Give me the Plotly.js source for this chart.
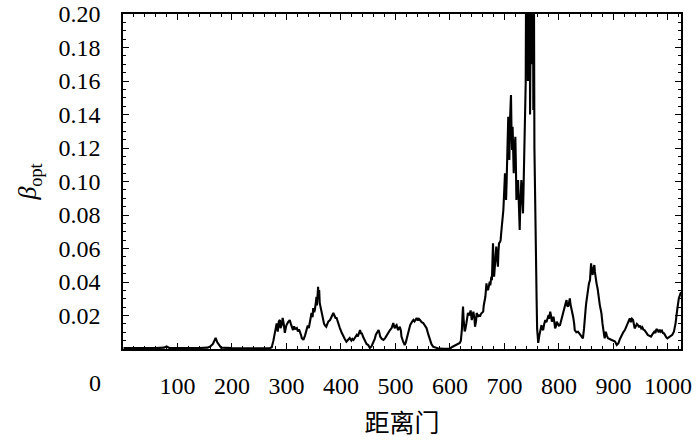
<!DOCTYPE html>
<html>
<head>
<meta charset="utf-8">
<script src="https://cdn.plot.ly/plotly-3.0.1.min.js"></script>
<style>html,body{margin:0;padding:0;background:#fff;}</style>
</head>
<body>
<div id="chart" style="width:700px;height:440px;"></div>
<script>
// Range gate index (距离门) and beta_opt values
const gateIndex = [
1,20,40,60,75,80,85,100,120,140,155,160,165,168,170,173,176,180,200,220,240,260,270,
273,276,279,281,282,284,286,288,289,291,293,295,297,299,300,303,306,308,310,312,314,316,319,321,323,325,327,328,331,334,337,339,341,343,345,346,348,349,351,352,354,355,356,357,358,359,360,361,363,364,366,367,369,371,373,375,377,380,382,384,386,388,390,392,394,396,398,
401,404,407,410,413,416,419,421,423,426,429,431,433,435,437,438,441,444,447,450,453,456,459,462,464,466,468,469,471,472,475,478,481,484,487,490,493,496,498,499,
501,502,504,505,507,508,510,511,514,517,519,520,523,525,527,530,533,535,537,539,541,543,545,548,551,554,557,560,563,566,569,572,576,580,590,600,
604,608,612,615,618,620,621,622,623,624,625,627,628,630,631,633,635,637,638,640,641,643,645,646,648,649,651,652,654,655,657,658,660,661,662,664,665,667,668,670,671,673,674,676,677,679,680,681,683,685,686,688,689,690,692,693,694,696,698,699,
701,702,703,704,705,706,707,708,709,710,711,712,713,714,715,716,717,718,720,721,722,723,725,726,727,728,729,731,732,734,735,736,737,738,739,740,741,742,743,744,745,746,747,748,749,750,751,752,753,754,755,756,757,758,759,760,761,762,764,766,768,769,771,773,775,777,779,781,782,784,786,787,789,790,792,793,795,796,798,
800,802,804,805,807,808,810,812,814,815,817,818,820,821,823,825,826,828,829,832,835,838,841,844,846,847,849,850,852,853,855,857,858,859,860,862,863,865,866,867,869,871,872,874,875,877,878,880,881,883,884,886,888,890,893,897,
900,903,906,909,912,915,918,921,924,927,930,932,934,936,938,939,941,943,945,947,949,951,953,955,957,959,961,963,966,969,972,975,977,979,981,983,985,987,989,991,993,995,997,999,
1002,1005,1008,1011,1014,1017,1020,1024
];
const betaOpt = [
0.0005,0.0004,0.0006,0.0005,0.0008,0.0015,0.0006,0.0005,0.0004,0.0006,0.0008,0.0015,0.003,0.0055,0.0066,0.004,0.0025,0.0008,0.0005,0.0004,0.0005,0.0004,0.0006,
0.001,0.005,0.0096,0.0135,0.0153,0.0104,0.0165,0.0173,0.0125,0.0140,0.0185,0.0150,0.0096,0.0130,0.0143,0.0160,0.0173,0.0150,0.0125,0.0113,0.0135,0.0120,0.0125,0.0105,0.0118,0.0103,0.0080,0.0066,0.0054,0.0080,0.0113,0.0140,0.0125,0.0173,0.0200,0.0215,0.0190,0.0245,0.0220,0.0233,0.0280,0.0312,0.0260,0.0350,0.0372,0.0300,0.0352,0.0275,0.0240,0.0215,0.0190,0.0173,0.0150,0.0140,0.0133,0.0150,0.0165,0.0173,0.0190,0.0200,0.0215,0.0200,0.0185,0.0185,0.0160,0.0140,0.0125,
0.0100,0.0074,0.0060,0.0044,0.0055,0.0066,0.0050,0.0060,0.0054,0.0070,0.0084,0.0075,0.0100,0.0113,0.0090,0.0096,0.0070,0.0044,0.0030,0.0024,0.0006,0.0015,0.0036,0.0060,0.0085,0.0096,0.0105,0.0113,0.0090,0.0074,0.0060,0.0054,0.0065,0.0084,0.0095,0.0113,0.0125,0.0155,0.0130,0.0125,
0.0140,0.0143,0.0120,0.0113,0.0125,0.0133,0.0110,0.0074,0.0045,0.0024,0.0040,0.0054,0.0090,0.0120,0.0143,0.0160,0.0173,0.0165,0.0180,0.0185,0.0170,0.0180,0.0173,0.0160,0.0155,0.0140,0.0125,0.0090,0.0054,0.0030,0.0014,0.0010,0.0006,0.0002,0.0001,0.0002,
0.0012,0.0020,0.0024,0.0030,0.0036,0.0050,0.0074,0.0120,0.0200,0.0253,0.0180,0.0105,0.0113,0.0150,0.0190,0.0215,0.0200,0.0223,0.0230,0.0173,0.0200,0.0223,0.0180,0.0133,0.0170,0.0215,0.0200,0.0193,0.0205,0.0193,0.0210,0.0213,0.0220,0.0223,0.0260,0.0300,0.0312,0.0392,0.0360,0.0352,0.0380,0.0402,0.0380,0.0432,0.0410,0.0631,0.0500,0.0432,0.0520,0.0611,0.0560,0.0491,0.0580,0.0631,0.0640,0.0651,0.0691,0.0750,0.0830,0.0900,
0.1049,0.0950,0.0890,0.1000,0.1148,0.1250,0.1387,0.1200,0.1128,0.1347,0.1400,0.1516,0.1300,0.1188,0.1327,0.1200,0.1049,0.1150,0.1267,0.1100,0.0890,0.0950,0.1009,0.0900,0.0800,0.0710,0.0850,0.1009,0.0950,0.0810,0.0950,0.1150,0.1327,0.1450,0.1586,0.2400,0.1900,0.2800,0.1600,0.2600,0.1750,0.2900,0.1400,0.2500,0.2200,0.3000,0.1700,0.2700,0.1427,0.2300,0.1200,0.0890,0.0700,0.0600,0.0300,0.0120,0.0060,0.0036,0.0080,0.0120,0.0143,0.0120,0.0113,0.0150,0.0173,0.0160,0.0190,0.0203,0.0180,0.0223,0.0190,0.0163,0.0180,0.0193,0.0150,0.0123,0.0140,0.0163,0.0150,
0.0140,0.0143,0.0170,0.0193,0.0210,0.0233,0.0250,0.0270,0.0292,0.0260,0.0253,0.0280,0.0302,0.0270,0.0243,0.0210,0.0193,0.0150,0.0113,0.0100,0.0103,0.0090,0.0074,0.0064,0.0120,0.0193,0.0240,0.0273,0.0320,0.0372,0.0390,0.0412,0.0470,0.0511,0.0470,0.0442,0.0480,0.0501,0.0460,0.0432,0.0392,0.0360,0.0332,0.0290,0.0262,0.0230,0.0213,0.0150,0.0113,0.0080,0.0064,0.0103,0.0080,0.0064,0.0060,0.0054,
0.0050,0.0044,0.0024,0.0034,0.0060,0.0084,0.0100,0.0113,0.0140,0.0163,0.0183,0.0160,0.0180,0.0173,0.0140,0.0123,0.0135,0.0150,0.0143,0.0130,0.0140,0.0123,0.0130,0.0115,0.0113,0.0100,0.0095,0.0084,0.0080,0.0074,0.0090,0.0103,0.0095,0.0120,0.0113,0.0100,0.0115,0.0103,0.0110,0.0095,0.0093,0.0080,0.0070,0.0064,
0.0070,0.0074,0.0085,0.0103,0.0153,0.0233,0.0302,0.0340
];
const xTickVals = [0,100,200,300,400,500,600,700,800,900,1000];
const xTickText = ['','100','200','300','400','500','600','700','800','900','1000'];
const yTickVals = [0,0.02,0.04,0.06,0.08,0.10,0.12,0.14,0.16,0.18,0.20];
const yTickText = ['','0.02','0.04','0.06','0.08','0.10','0.12','0.14','0.16','0.18','0.20'];
const originLabel = '0';
const xRange = [0, 1024];
const yRange = [0, 0.2];
const xMinorStep = 20;
const yMinorStep = 0.005;

const serif = 'Liberation Serif, DejaVu Serif, serif';

const dataTrace = {
  x: gateIndex, y: betaOpt, type: 'scatter', mode: 'lines',
  line: {color: '#000', width: 2.1},
  hoverinfo: 'skip'
};

const layout = {
  width: 700, height: 440,
  margin: {l: 123, r: 19, t: 14, b: 91},
  paper_bgcolor: '#fff', plot_bgcolor: '#fff',
  showlegend: false,
  font: {family: serif, size: 24, color: '#000'},
  xaxis: {
    range: xRange, tickmode: 'array', tickvals: xTickVals, ticktext: xTickText,
    ticks: 'inside', ticklen: 6, tickwidth: 1.3, tickcolor: '#000',
    showline: true, linewidth: 1.6, linecolor: '#000', mirror: 'ticks',
    showgrid: false, zeroline: false, automargin: false,
    ticklabelstandoff: 14,
    minor: {dtick: xMinorStep, ticks: 'inside', ticklen: 3, tickwidth: 1.1, tickcolor: '#000', showgrid: false},
    tickfont: {family: serif, size: 24, color: '#000'},
    title: {text: '距离门', font: {family: 'Noto Sans CJK SC', size: 25, color: '#000'}, standoff: 17}
  },
  yaxis: {
    range: yRange, tickmode: 'array', tickvals: yTickVals, ticktext: yTickText,
    ticks: 'inside', ticklen: 6, tickwidth: 1.3, tickcolor: '#000',
    showline: true, linewidth: 1.6, linecolor: '#000', mirror: 'ticks',
    showgrid: false, zeroline: false, automargin: false,
    ticklabelstandoff: 16,
    minor: {dtick: yMinorStep, ticks: 'inside', ticklen: 3, tickwidth: 1.1, tickcolor: '#000', showgrid: false},
    tickfont: {family: serif, size: 24, color: '#000'},
    title: {text: '<i>β</i><sub>opt</sub>', font: {family: serif, size: 26, color: '#000'}, standoff: 14}
  },
  annotations: [{
    text: originLabel, xref: 'paper', yref: 'paper',
    x: -0.050, y: -0.101, xanchor: 'center', yanchor: 'middle',
    showarrow: false, font: {family: serif, size: 24, color: '#000'}
  }]
};

Plotly.newPlot('chart', [dataTrace], layout, {displayModeBar: false});
</script>
</body>
</html>
